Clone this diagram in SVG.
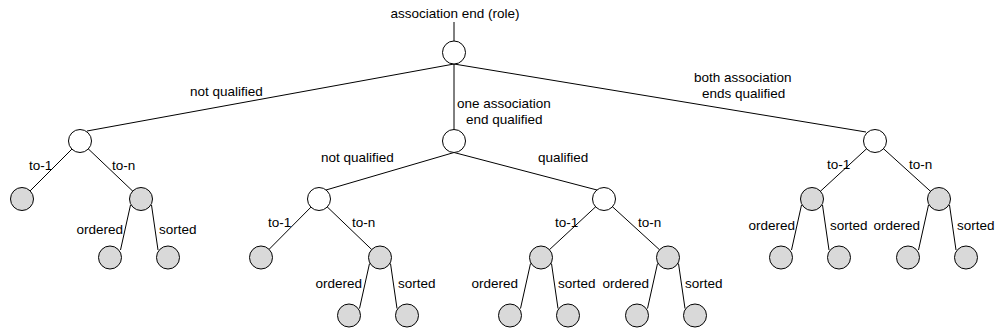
<svg xmlns="http://www.w3.org/2000/svg" width="995" height="334" viewBox="0 0 995 334">
<style>
.n{stroke:#000;stroke-width:1;fill:#fff}
.g{stroke:#000;stroke-width:1;fill:#d9d9d9}
.e{stroke:#000;stroke-width:1;fill:none}
text{font-family:"Liberation Sans",Arial,sans-serif;font-size:13.5px;fill:#000}
.m{text-anchor:middle}
.r{text-anchor:end}
</style>
<rect width="995" height="334" fill="#fff"/>
<g id="connectors">
<line class="e" x1="454" y1="22" x2="454" y2="41"/>
<line class="e" x1="454" y1="64" x2="87" y2="131"/>
<line class="e" x1="454" y1="64" x2="454" y2="129.5"/>
<line class="e" x1="454" y1="64" x2="866" y2="132"/>
<line class="e" x1="80" y1="141" x2="22" y2="199"/>
<line class="e" x1="80" y1="141" x2="141" y2="199"/>
<line class="e" x1="130.5" y1="205" x2="120.5" y2="250"/>
<line class="e" x1="151.5" y1="205" x2="158" y2="250"/>
<line class="e" x1="454" y1="152.5" x2="326" y2="190"/>
<line class="e" x1="454" y1="152.5" x2="597" y2="190"/>
<line class="e" x1="319" y1="199" x2="261" y2="257.5"/>
<line class="e" x1="319" y1="199" x2="380" y2="257.5"/>
<line class="e" x1="369.5" y1="263.5" x2="359.5" y2="308.5"/>
<line class="e" x1="390.5" y1="263.5" x2="397" y2="308.5"/>
<line class="e" x1="604" y1="199" x2="541" y2="257.5"/>
<line class="e" x1="604" y1="199" x2="668" y2="257.5"/>
<line class="e" x1="530.5" y1="263.5" x2="520.5" y2="308.5"/>
<line class="e" x1="551.5" y1="263.5" x2="558" y2="308.5"/>
<line class="e" x1="657.5" y1="263.5" x2="647.5" y2="308.5"/>
<line class="e" x1="678.5" y1="263.5" x2="685" y2="308.5"/>
<line class="e" x1="875" y1="141" x2="812" y2="199"/>
<line class="e" x1="875" y1="141" x2="939" y2="199"/>
<line class="e" x1="801.5" y1="205" x2="791.5" y2="250"/>
<line class="e" x1="822.5" y1="205" x2="829" y2="250"/>
<line class="e" x1="928.5" y1="205" x2="918.5" y2="250"/>
<line class="e" x1="949.5" y1="205" x2="956" y2="250"/>
</g>
<g id="labels">
<text class="m" x="455" y="18">association end (role)</text>
<text x="190" y="96">not qualified</text>
<text x="457" y="108">one association</text>
<text x="466" y="124">end qualified</text>
<text x="694" y="82">both association</text>
<text x="702" y="98">ends qualified</text>
<text x="29" y="170">to-1</text>
<text x="112" y="170">to-n</text>
<text class="r" x="123" y="234">ordered</text>
<text x="159" y="234">sorted</text>
<text x="321" y="162">not qualified</text>
<text x="538" y="162">qualified</text>
<text x="268" y="227">to-1</text>
<text x="352" y="227">to-n</text>
<text class="r" x="362" y="288">ordered</text>
<text x="398" y="288">sorted</text>
<text x="555" y="227">to-1</text>
<text x="638" y="227">to-n</text>
<text class="r" x="518" y="288">ordered</text>
<text x="558" y="288">sorted</text>
<text class="r" x="649" y="288">ordered</text>
<text x="685" y="288">sorted</text>
<text x="827" y="169">to-1</text>
<text x="909" y="169">to-n</text>
<text class="r" x="795" y="230">ordered</text>
<text x="830" y="230">sorted</text>
<text class="r" x="920" y="230">ordered</text>
<text x="957" y="230">sorted</text>
</g>
<g id="root"><circle class="n" cx="454" cy="52.5" r="11.5"/></g>
<g id="nq"><circle class="n" cx="80" cy="141" r="11.5"/></g>
<g id="one"><circle class="n" cx="454" cy="141" r="11.5"/></g>
<g id="both"><circle class="n" cx="875" cy="141" r="11.5"/></g>
<g id="nq-to1"><circle class="g" cx="22" cy="199" r="11.5"/></g>
<g id="nq-ton"><circle class="g" cx="141" cy="199" r="11.5"/></g>
<g id="nq-ton-ordered"><circle class="g" cx="110" cy="257.5" r="11.5"/></g>
<g id="nq-ton-sorted"><circle class="g" cx="168" cy="257.5" r="11.5"/></g>
<g id="one-nq"><circle class="n" cx="319" cy="199" r="11.5"/></g>
<g id="one-q"><circle class="n" cx="604" cy="199" r="11.5"/></g>
<g id="one-nq-to1"><circle class="g" cx="261" cy="257.5" r="11.5"/></g>
<g id="one-nq-ton"><circle class="g" cx="380" cy="257.5" r="11.5"/></g>
<g id="one-nq-ton-ordered"><circle class="g" cx="349" cy="315.5" r="11.5"/></g>
<g id="one-nq-ton-sorted"><circle class="g" cx="407" cy="315.5" r="11.5"/></g>
<g id="one-q-to1"><circle class="g" cx="541" cy="257.5" r="11.5"/></g>
<g id="one-q-ton"><circle class="g" cx="668" cy="257.5" r="11.5"/></g>
<g id="one-q-to1-ordered"><circle class="g" cx="510" cy="315.5" r="11.5"/></g>
<g id="one-q-to1-sorted"><circle class="g" cx="568" cy="315.5" r="11.5"/></g>
<g id="one-q-ton-ordered"><circle class="g" cx="637" cy="315.5" r="11.5"/></g>
<g id="one-q-ton-sorted"><circle class="g" cx="695" cy="315.5" r="11.5"/></g>
<g id="both-to1"><circle class="g" cx="812" cy="199" r="11.5"/></g>
<g id="both-ton"><circle class="g" cx="939" cy="199" r="11.5"/></g>
<g id="both-to1-ordered"><circle class="g" cx="781" cy="257.5" r="11.5"/></g>
<g id="both-to1-sorted"><circle class="g" cx="839" cy="257.5" r="11.5"/></g>
<g id="both-ton-ordered"><circle class="g" cx="908" cy="257.5" r="11.5"/></g>
<g id="both-ton-sorted"><circle class="g" cx="966" cy="257.5" r="11.5"/></g>
</svg>
